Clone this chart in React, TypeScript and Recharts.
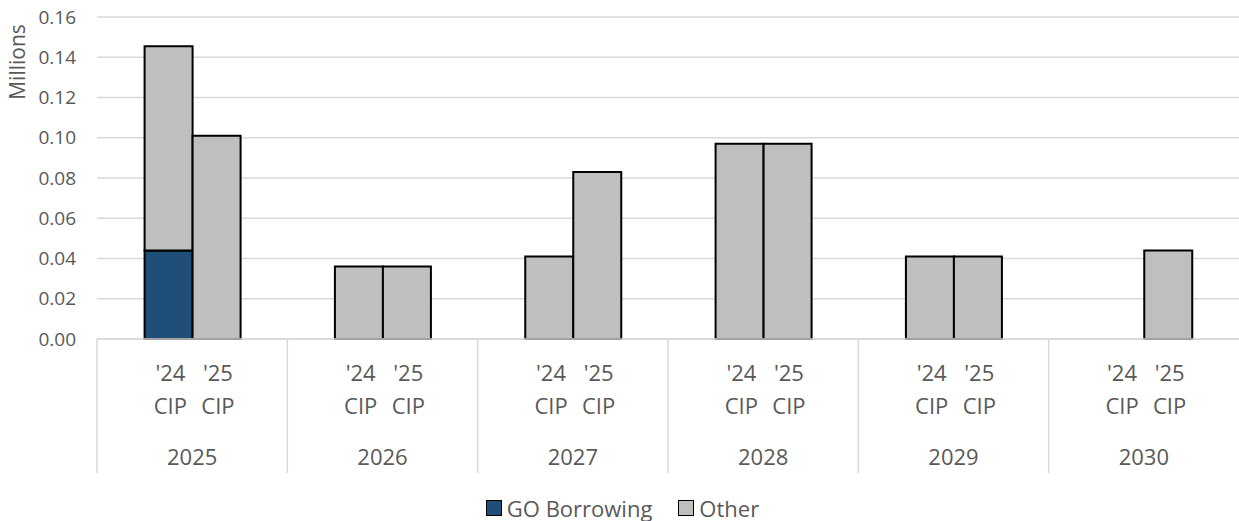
import { BarChart, Bar, XAxis, YAxis, CartesianGrid, Legend, Label } from "recharts";

const years = ["2025", "2026", "2027", "2028", "2029", "2030"];
const goBorrowing24 = [0.044, null, null, null, null, null];
const other24 = [0.1015, 0.036, 0.041, 0.097, 0.041, null];
const other25 = [0.101, 0.036, 0.083, 0.097, 0.041, 0.044];
const subLabels = ["'24", "'25"];
const yTicks = [0, 0.02, 0.04, 0.06, 0.08, 0.1, 0.12, 0.14, 0.16];

const GO_COLOR = "#1F4E79";
const OTHER_COLOR = "#BFBFBF";
const TEXT_COLOR = "#595959";
const GRID_COLOR = "#D9D9D9";
const FONT = "'Open Sans', sans-serif";

const WIDTH = 1239;
const HEIGHT = 521;
const Y_AXIS_W = 97;
const X_AXIS_H = 134;
const BAND = (WIDTH - Y_AXIS_W) / years.length;

const data = years.map((year, i) => ({
  year,
  go24: goBorrowing24[i],
  other24: other24[i],
  other25: other25[i],
}));

function CategoryTick(props: any) {
  const { x, y, payload } = props;
  const barW = BAND / 4;
  const left = x - BAND / 2;
  return (
    <g fontFamily={FONT} fill={TEXT_COLOR}>
      <line x1={left} y1={y} x2={left} y2={y + X_AXIS_H} stroke={GRID_COLOR} strokeWidth={1.5} />
      {subLabels.map((s, i) => {
        const cx = x + (i === 0 ? -barW / 2 : barW / 2) + 2;
        return (
          <g key={s}>
            <text x={cx} y={y + 42} textAnchor="middle" fontSize={22}>{s}</text>
            <text x={cx} y={y + 74.5} textAnchor="middle" fontSize={22}>CIP</text>
          </g>
        );
      })}
      <text x={x} y={y + 125.5} textAnchor="middle" fontSize={22}>{payload.value}</text>
    </g>
  );
}

function LegendContent() {
  const items = [
    { name: "GO Borrowing", color: GO_COLOR },
    { name: "Other", color: OTHER_COLOR },
  ];
  return (
    <div style={{ display: "flex", justifyContent: "center", gap: 26, paddingTop: 24, paddingLeft: 6, fontFamily: FONT, fontSize: 22, color: TEXT_COLOR }}>
      {items.map((it) => (
        <div key={it.name} style={{ display: "flex", alignItems: "center", gap: 5, height: 22 }}>
          <div style={{ width: 14, height: 14, background: it.color, border: "1.5px solid #000" }} />
          <span style={{ lineHeight: "22px" }}>{it.name}</span>
        </div>
      ))}
    </div>
  );
}

export default function App() {
  return (
    <div style={{ position: "absolute", left: 0, top: 0, width: WIDTH, height: HEIGHT, background: "#fff" }}>
      <BarChart
        width={WIDTH}
        height={HEIGHT}
        data={data}
        margin={{ top: 17, right: 0, bottom: 0, left: 0 }}
        barCategoryGap="25%"
        barGap={0}
      >
        <CartesianGrid vertical={false} stroke={GRID_COLOR} strokeWidth={1.5} />
        <XAxis
          dataKey="year"
          height={X_AXIS_H}
          tickLine={false}
          tickSize={0}
          tickMargin={0}
          axisLine={{ stroke: GRID_COLOR, strokeWidth: 1.5 }}
          tick={<CategoryTick />}
          interval={0}
        />
        <YAxis
          width={Y_AXIS_W}
          domain={[0, 0.16]}
          ticks={yTicks}
          tickFormatter={(v: number) => v.toFixed(2)}
          axisLine={false}
          tickLine={false}
          tickMargin={15}
          tick={{ fill: TEXT_COLOR, fontSize: 19, fontFamily: FONT }}
        >
          <Label
            content={() => (
              <text
                x={17}
                y={62}
                transform="rotate(-90 17 62)"
                textAnchor="middle"
                dominantBaseline="central"
                fontSize={21}
                fontFamily={FONT}
                fill={TEXT_COLOR}
              >
                Millions
              </text>
            )}
          />
        </YAxis>
        <Legend verticalAlign="bottom" height={48} content={<LegendContent />} />
        <Bar dataKey="go24" name="GO Borrowing" stackId="a" fill={GO_COLOR} stroke="#000" strokeWidth={2} isAnimationActive={false} />
        <Bar dataKey="other24" name="Other" stackId="a" fill={OTHER_COLOR} stroke="#000" strokeWidth={2} isAnimationActive={false} />
        <Bar dataKey="other25" name="Other" stackId="b" fill={OTHER_COLOR} stroke="#000" strokeWidth={2} isAnimationActive={false} />
      </BarChart>
    </div>
  );
}
